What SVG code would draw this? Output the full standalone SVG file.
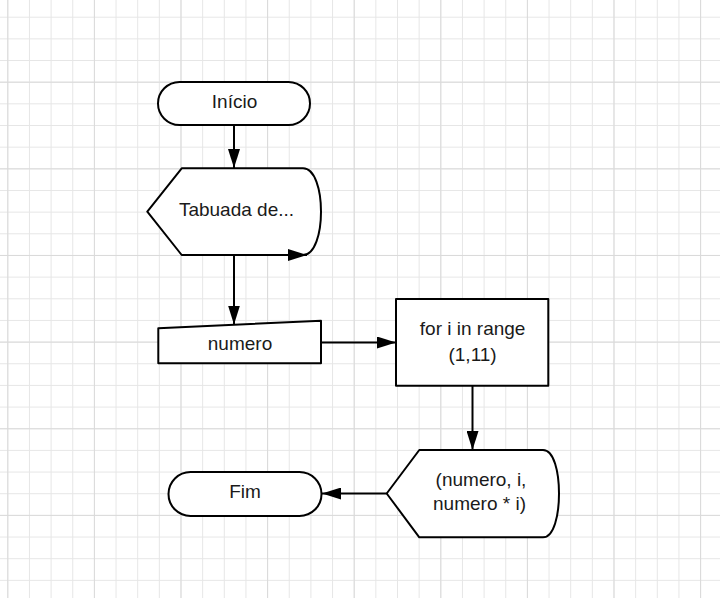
<svg xmlns="http://www.w3.org/2000/svg" width="720" height="598" viewBox="0 0 720 598">
  <style>
    .shape { fill: #ffffff; stroke: #000000; stroke-width: 2; stroke-linejoin: round; }
    .label { font-family: "Liberation Sans", Arial, sans-serif; font-size: 19px; fill: #1a1a1a; text-anchor: middle; }
    .conn { fill: none; stroke: #000000; stroke-width: 2; }
  </style>
  <defs>
    <pattern id="gridMinor" patternUnits="userSpaceOnUse" x="7.3" y="16.7" width="21.65" height="21.66">
      <path d="M0.5,0 L0.5,21.66 M0,0.5 L21.65,0.5" stroke="#e6e6e6" stroke-width="1" fill="none"/>
    </pattern>
    <pattern id="gridMajor" patternUnits="userSpaceOnUse" x="7.3" y="81.7" width="86.6" height="86.64">
      <path d="M0.5,0 L0.5,86.64 M0,0.5 L86.6,0.5" stroke="#dadada" stroke-width="1" fill="none"/>
    </pattern>
    <marker id="arrow" markerUnits="userSpaceOnUse" markerWidth="20" markerHeight="12" refX="19" refY="6" orient="auto">
      <path d="M0,0 L19,6 L0,12 Z" fill="#000000"/>
    </marker>
  </defs>

  <rect x="0" y="0" width="720" height="598" fill="#ffffff"/>
  <rect x="0" y="0" width="720" height="598" fill="url(#gridMinor)"/>
  <rect x="0" y="0" width="720" height="598" fill="url(#gridMajor)"/>

  <g id="inicio">
    <rect class="shape" x="158" y="82" width="152" height="43" rx="21.5" ry="21.5"/>
    <text class="label" x="234.5" y="108">Início</text>
  </g>

  <g id="tabuada">
    <path class="shape" d="M181.7,168.3 L303,168.3 C315,168.3 321,190 321,211.7 C321,233 315,255 303,255 L181.7,255 L147.3,211.7 Z"/>
    <text class="label" x="236.5" y="216">Tabuada de...</text>
  </g>

  <g id="numero">
    <path class="shape" d="M158.3,328.3 L321,320.7 L321,363.3 L158.3,363.3 Z"/>
    <text class="label" x="240" y="350">numero</text>
  </g>

  <g id="for">
    <rect class="shape" x="396" y="299" width="152.3" height="86.7"/>
    <text class="label" x="472.6" y="335">for i in range</text>
    <text class="label" x="472.6" y="360.5">(1,11)</text>
  </g>

  <g id="print">
    <path class="shape" d="M419.3,450 L543,450 C554,450 559,472 559,493.5 C559,515 554,537.3 543,537.3 L419.3,537.3 L386.7,493.5 Z"/>
    <text class="label" x="481" y="486">(numero, i,</text>
    <text class="label" x="479.5" y="510">numero * i)</text>
  </g>

  <g id="fim">
    <rect class="shape" x="168.5" y="472" width="153" height="44" rx="22" ry="22"/>
    <text class="label" x="245" y="497.5">Fim</text>
  </g>

  <g id="connectors">
    <path class="conn" d="M234,125 L234,168" marker-end="url(#arrow)"/>
    <path class="conn" d="M234,255 L234,324.5" marker-end="url(#arrow)"/>
    <path class="conn" d="M321,342.5 L396,342.5" marker-end="url(#arrow)"/>
    <path class="conn" d="M472.5,385.7 L472.5,450" marker-end="url(#arrow)"/>
    <path class="conn" d="M386.7,493.5 L322,493.5" marker-end="url(#arrow)"/>
    <path class="conn" d="M300,255 L307,255" marker-end="url(#arrow)"/>
  </g>
</svg>
